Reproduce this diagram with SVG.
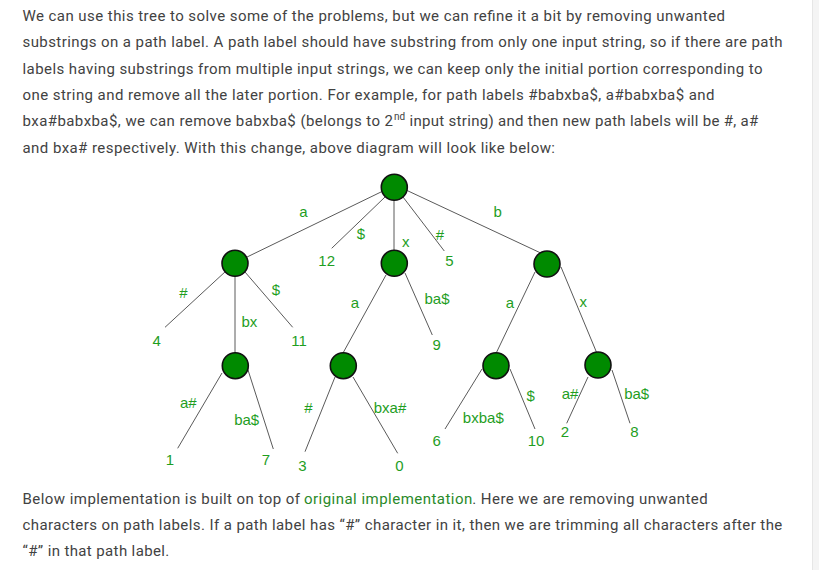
<svg xmlns="http://www.w3.org/2000/svg" width="819" height="570" viewBox="0 0 819 570">
<style>
.p{font-family:Roboto,"Liberation Sans",sans-serif;font-size:15px;fill:#424242}
.lnk{fill:#2a8a2a}
.lb{font-family:"Liberation Sans",Arial,sans-serif;font-size:15px;fill:#1f9e1f;text-anchor:middle}
.e{stroke:#5a5a5a;stroke-width:1;fill:none}
.n{fill:#008a00;stroke:#111;stroke-width:1.6}
</style>
<rect x="0" y="0" width="819" height="570" fill="#ffffff"/>
<rect x="812.5" y="0" width="6.5" height="570" fill="#f4f4f4"/>
<line x1="812.5" y1="0" x2="812.5" y2="570" stroke="#e6e6e6" stroke-width="1"/>

<g id="text-top">
<text class="p" x="22.5" y="21" textLength="702.5" lengthAdjust="spacing">We can use this tree to solve some of the problems, but we can refine it a bit by removing unwanted</text>
<text class="p" x="22.5" y="47.3" textLength="760" lengthAdjust="spacing">substrings on a path label. A path label should have substring from only one input string, so if there are path</text>
<text class="p" x="22.5" y="73.6" textLength="740" lengthAdjust="spacing">labels having substrings from multiple input strings, we can keep only the initial portion corresponding to</text>
<text class="p" x="22.5" y="99.9" textLength="692" lengthAdjust="spacing">one string and remove all the later portion. For example, for path labels #babxba$, a#babxba$ and</text>
<text class="p" x="22.5" y="126.2" textLength="370.5" lengthAdjust="spacing">bxa#babxba$, we can remove babxba$ (belongs to 2</text>
<text class="p" x="394" y="119.5" style="font-size:10px">nd</text>
<text class="p" x="409.5" y="126.2" textLength="348.8" lengthAdjust="spacing">input string) and then new path labels will be #, a#</text>
<text class="p" x="22.5" y="152.5" textLength="532.5" lengthAdjust="spacing">and bxa# respectively. With this change, above diagram will look like below:</text>
</g>

<g id="connectors">
<line class="e" x1="383" y1="191" x2="245" y2="258"/>
<line class="e" x1="385" y1="197" x2="331.7" y2="248.3"/>
<line class="e" x1="394" y1="200" x2="394" y2="250"/>
<line class="e" x1="403" y1="197" x2="444.3" y2="251"/>
<line class="e" x1="406" y1="190" x2="545" y2="255"/>
<line class="e" x1="226" y1="271" x2="165" y2="327.3"/>
<line class="e" x1="235" y1="276" x2="235" y2="353"/>
<line class="e" x1="245" y1="272" x2="292.7" y2="327.3"/>
<line class="e" x1="386" y1="275" x2="343" y2="353"/>
<line class="e" x1="405" y1="273" x2="432.3" y2="335"/>
<line class="e" x1="535" y1="272" x2="496.7" y2="352"/>
<line class="e" x1="561" y1="267" x2="596.7" y2="352.7"/>
<line class="e" x1="222" y1="373" x2="177.7" y2="448.3"/>
<line class="e" x1="248" y1="370" x2="273.3" y2="449"/>
<line class="e" x1="335" y1="377" x2="305" y2="451.7"/>
<line class="e" x1="353" y1="377" x2="397.7" y2="453.3"/>
<line class="e" x1="482" y1="369" x2="445" y2="429"/>
<line class="e" x1="510" y1="369" x2="535" y2="429"/>
<line class="e" x1="588" y1="377" x2="566.7" y2="423.3"/>
<line class="e" x1="612" y1="370" x2="630" y2="423.3"/>
</g>

<g id="edge-labels">
<text class="lb" x="303.3" y="216.5">a</text>
<text class="lb" x="361" y="238.5">$</text>
<text class="lb" x="405.7" y="246.5">x</text>
<text class="lb" x="440" y="239.5">#</text>
<text class="lb" x="497.7" y="216.5">b</text>
<text class="lb" x="183.3" y="298">#</text>
<text class="lb" x="249.3" y="327">bx</text>
<text class="lb" x="276" y="294.5">$</text>
<text class="lb" x="355" y="307.5">a</text>
<text class="lb" x="437" y="303.5">ba$</text>
<text class="lb" x="510" y="307.5">a</text>
<text class="lb" x="583.3" y="306.5">x</text>
<text class="lb" x="188.3" y="408">a#</text>
<text class="lb" x="246.7" y="424.5">ba$</text>
<text class="lb" x="308.3" y="412.5">#</text>
<text class="lb" x="390" y="412.5">bxa#</text>
<text class="lb" x="483.3" y="422.5">bxba$</text>
<text class="lb" x="530.7" y="401">$</text>
<text class="lb" x="570" y="398.5">a#</text>
<text class="lb" x="636.7" y="398.5">ba$</text>
</g>

<g id="leaves">
<text class="lb" x="326.7" y="266">12</text>
<text class="lb" x="449.3" y="266">5</text>
<text class="lb" x="156.7" y="345.5">4</text>
<text class="lb" x="299" y="345.5">11</text>
<text class="lb" x="436.7" y="349.5">9</text>
<text class="lb" x="170" y="465">1</text>
<text class="lb" x="266" y="465">7</text>
<text class="lb" x="302.3" y="470.5">3</text>
<text class="lb" x="399.3" y="470.5">0</text>
<text class="lb" x="436.7" y="445.5">6</text>
<text class="lb" x="536" y="445.5">10</text>
<text class="lb" x="565" y="437">2</text>
<text class="lb" x="634.3" y="437">8</text>
</g>

<g id="node-root"><circle class="n" cx="394.3" cy="187.3" r="13"/></g>
<g id="node-a"><circle class="n" cx="235" cy="263.3" r="13"/></g>
<g id="node-x"><circle class="n" cx="394.3" cy="263.3" r="13"/></g>
<g id="node-b"><circle class="n" cx="547" cy="264" r="13"/></g>
<g id="node-abx"><circle class="n" cx="235.3" cy="365.7" r="13"/></g>
<g id="node-xa"><circle class="n" cx="343.3" cy="365.7" r="13"/></g>
<g id="node-ba"><circle class="n" cx="496" cy="365.7" r="13"/></g>
<g id="node-bx"><circle class="n" cx="598" cy="365" r="13"/></g>

<g id="text-bottom">
<text class="p" x="22.5" y="503.5" textLength="277.5" lengthAdjust="spacing">Below implementation is built on top of</text>
<text class="p lnk" x="304" y="503.5" textLength="168.3" lengthAdjust="spacing">original implementation</text>
<text class="p" x="472.3" y="503.5" textLength="235.4" lengthAdjust="spacing">. Here we are removing unwanted</text>
<text class="p" x="22.5" y="529.5" textLength="759.8" lengthAdjust="spacing">characters on path labels. If a path label has “#” character in it, then we are trimming all characters after the</text>
<text class="p" x="22.5" y="555.5" textLength="146.8" lengthAdjust="spacing">“#” in that path label.</text>
</g>
</svg>
